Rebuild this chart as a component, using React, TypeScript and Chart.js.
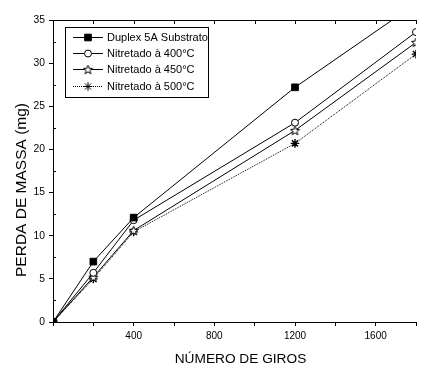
import React, { useEffect, useRef } from 'react';
import { Chart, registerables } from 'chart.js';
import { drawPoint } from 'chart.js/helpers';

Chart.register(...registerables);

const cycles = [0, 200, 400, 1200, 1800];
const duplex = [0, 7.0, 12.1, 27.2, 36.9];
const nit400 = [0, 5.7, 11.8, 23.1, 33.6];
const nit450 = [0, 5.2, 10.6, 22.2, 32.4];
const nit500 = [0, 5.0, 10.45, 20.7, 31.05];
const seriesLabels = [
  'Duplex 5A Substrato',
  'Nitretado à 400°C',
  'Nitretado à 450°C',
  'Nitretado à 500°C',
];
const xTickLabels = [400, 800, 1200, 1600];
const yTickLabels = [0, 5, 10, 15, 20, 25, 30, 35];
const xTitle = 'NÚMERO DE GIROS';
const yTitle = 'PERDA DE MASSA (mg)';

const FONT = '"Liberation Sans", Arial, Helvetica, sans-serif';

function makeStar(): HTMLCanvasElement {
  const c = document.createElement('canvas');
  c.width = 11;
  c.height = 11;
  const g = c.getContext('2d')!;
  g.beginPath();
  for (let i = 0; i < 10; i++) {
    const r = i % 2 === 0 ? 4.8 : 2.0;
    const a = -Math.PI / 2 + (i * Math.PI) / 5;
    g.lineTo(5.5 + r * Math.cos(a), 5.9 + r * Math.sin(a));
  }
  g.closePath();
  g.fillStyle = '#fff';
  g.fill();
  g.strokeStyle = '#000';
  g.lineWidth = 1;
  g.stroke();
  return c;
}

const framePlugin = {
  id: 'frameExtras',
  afterDraw(chart: any) {
    const ctx = chart.ctx as CanvasRenderingContext2D;
    const { left, right, top, bottom } = chart.chartArea;
    const xs = chart.scales.x;
    const ys = chart.scales.y;
    ctx.save();
    ctx.strokeStyle = '#000';
    ctx.lineWidth = 1;
    ctx.beginPath();
    ctx.moveTo(left, Math.round(top) + 0.5);
    ctx.lineTo(right + 1, Math.round(top) + 0.5);
    xs.ticks.forEach((t: any) => {
      const px = Math.round(xs.getPixelForValue(t.value)) + 0.5;
      ctx.moveTo(px, top);
      ctx.lineTo(px, top + 4);
    });
    ys.ticks.forEach((t: any) => {
      if (t.value % 5 !== 0) {
        const py = Math.round(ys.getPixelForValue(t.value)) + 0.5;
        ctx.moveTo(left, py);
        ctx.lineTo(left + 3, py);
      }
    });
    ctx.stroke();

    // axis titles
    ctx.fillStyle = '#000';
    ctx.font = `13.7px ${FONT}`;
    ctx.textAlign = 'center';
    ctx.textBaseline = 'alphabetic';
    ctx.fillText(xTitle, (left + right) / 2 + 6, 363);
    ctx.save();
    ctx.translate(26, (top + bottom) / 2 + 19);
    ctx.rotate(-Math.PI / 2);
    ctx.font = `15.5px ${FONT}`;
    ctx.fillText(yTitle, 0, 0);
    ctx.restore();

    // legend
    const bx = Math.round(left) + 12;
    const by = Math.round(top) + 7;
    const bw = 143;
    const bh = 70;
    ctx.fillStyle = '#fff';
    ctx.fillRect(bx, by, bw, bh);
    ctx.strokeStyle = '#000';
    ctx.strokeRect(bx + 0.5, by + 0.5, bw, bh);
    ctx.font = `11px ${FONT}`;
    ctx.textAlign = 'left';
    ctx.textBaseline = 'middle';
    chart.data.datasets.forEach((ds: any, i: number) => {
      const y = Math.round(by + 9.5 + i * 16.4) + 0.5;
      ctx.save();
      ctx.strokeStyle = '#000';
      ctx.lineWidth = 1;
      ctx.setLineDash(ds.borderDash || []);
      ctx.beginPath();
      ctx.moveTo(bx + 8, y);
      ctx.lineTo(bx + 38, y);
      ctx.stroke();
      ctx.setLineDash([]);
      ctx.fillStyle = ds.pointBackgroundColor;
      ctx.strokeStyle = ds.pointBorderColor;
      drawPoint(
        ctx,
        {
          pointStyle: ds.pointStyle,
          radius: ds.pointRadius,
          borderWidth: ds.pointBorderWidth,
          rotation: 0,
        } as any,
        bx + 23,
        y
      );
      ctx.restore();
      ctx.fillStyle = '#000';
      ctx.fillText(ds.label, bx + 42, y);
    });
    ctx.restore();
  },
};

export default function App() {
  const ref = useRef<HTMLCanvasElement | null>(null);

  useEffect(() => {
    if (!ref.current) return;
    const star = makeStar();
    const mk = (vals: number[]) => cycles.map((x, i) => ({ x, y: vals[i] }));
    const chart = new Chart(ref.current, {
      type: 'line',
      data: {
        datasets: [
          {
            label: seriesLabels[0],
            data: mk(duplex),
            borderColor: '#000',
            borderWidth: 1,
            pointStyle: 'rect',
            pointRadius: 4.7,
            pointBackgroundColor: '#000',
            pointBorderColor: '#000',
            pointBorderWidth: 1,
            tension: 0,
            fill: false,
          },
          {
            label: seriesLabels[1],
            data: mk(nit400),
            borderColor: '#000',
            borderWidth: 1,
            pointStyle: 'circle',
            pointRadius: 3.5,
            pointBackgroundColor: '#fff',
            pointBorderColor: '#000',
            pointBorderWidth: 1,
            tension: 0,
            fill: false,
          },
          {
            label: seriesLabels[2],
            data: mk(nit450),
            borderColor: '#000',
            borderWidth: 1,
            pointStyle: star as any,
            pointRadius: 5,
            pointBackgroundColor: '#fff',
            pointBorderColor: '#000',
            pointBorderWidth: 1,
            tension: 0,
            fill: false,
          },
          {
            label: seriesLabels[3],
            data: mk(nit500),
            borderColor: '#000',
            borderWidth: 1,
            borderDash: [1, 1],
            pointStyle: 'star',
            pointRadius: 4.3,
            pointBackgroundColor: '#000',
            pointBorderColor: '#000',
            pointBorderWidth: 1.4,
            tension: 0,
            fill: false,
          },
        ] as any,
      },
      options: {
        animation: false,
        responsive: false,
        maintainAspectRatio: false,
        layout: { padding: { top: 20, right: 5, left: 0, bottom: 0 } },
        plugins: {
          legend: { display: false },
          tooltip: { enabled: false },
          title: { display: false },
        },
        scales: {
          x: {
            type: 'linear',
            min: 0,
            max: 1800,
            afterFit: (s: any) => {
              s.height = 43;
            },
            ticks: {
              stepSize: 200,
              autoSkip: false,
              maxRotation: 0,
              padding: 4,
              color: '#000',
              font: { family: FONT, size: 10 },
              callback: (v: any) => (xTickLabels.includes(Number(v)) ? String(v) : ''),
            },
            grid: {
              drawOnChartArea: false,
              drawTicks: true,
              tickLength: 4,
              color: '#000',
              tickColor: '#000',
            },
            border: { display: true, color: '#000', width: 1 },
          },
          y: {
            type: 'linear',
            min: 0,
            max: 35,
            afterFit: (s: any) => {
              s.width = 53;
            },
            ticks: {
              stepSize: 2.5,
              autoSkip: false,
              padding: 4,
              color: '#000',
              font: { family: FONT, size: 10.3 },
              callback: (v: any) => (yTickLabels.includes(Number(v)) ? String(v) : ''),
            },
            grid: {
              drawOnChartArea: false,
              drawTicks: true,
              tickLength: 4,
              color: '#000',
              tickColor: (c: any) =>
                c.tick && c.tick.value % 5 === 0 ? '#000' : 'rgba(0,0,0,0)',
            },
            border: { display: true, color: '#000', width: 1 },
          },
        },
      } as any,
      plugins: [framePlugin],
    });
    return () => chart.destroy();
  }, []);

  return (
    <div
      style={{
        position: 'absolute',
        left: 0,
        top: 0,
        width: 422,
        height: 365,
        background: '#fff',
      }}
    >
      <canvas ref={ref} width={422} height={365} style={{ display: 'block' }} />
    </div>
  );
}
